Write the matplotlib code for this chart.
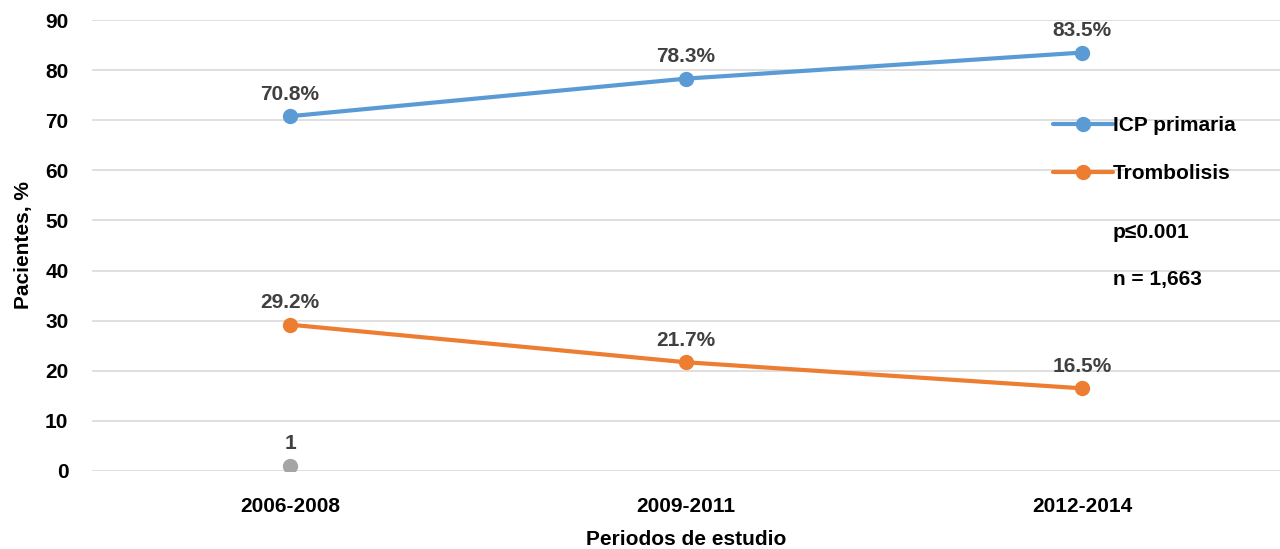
import numpy as np
import matplotlib.pyplot as plt

plt.rcParams['font.family'] = ['Liberation Sans', 'DejaVu Sans']
plt.rcParams['font.weight'] = 'bold'

periods = ['2006-2008', '2009-2011', '2012-2014']
icp = [70.8, 78.3, 83.5]
trombolisis = [29.2, 21.7, 16.5]
serie3 = [1]

FS = 15

fig = plt.figure(figsize=(12.8, 5.49), dpi=100)
ax = fig.add_axes([92/1280, 78/549, 1188/1280, 451/549])

x = np.arange(len(periods))
ax.plot(x, icp, color='#5B9BD5', lw=3, marker='o', ms=10, label='ICP primaria', solid_capstyle='round')
ax.plot(x, trombolisis, color='#ED7D31', lw=3, marker='o', ms=10, label='Trombolisis', solid_capstyle='round')
ax.plot(x[:1], serie3, color='#A5A5A5', lw=0, marker='o', ms=10)

for xi, v in zip(x, icp):
    ax.annotate(f'{v:.1f}%', (xi, v), xytext=(0, 9), textcoords='offset points',
                ha='center', va='bottom', fontsize=FS, color='#404040', fontweight='bold')
for xi, v in zip(x, trombolisis):
    ax.annotate(f'{v:.1f}%', (xi, v), xytext=(0, 9), textcoords='offset points',
                ha='center', va='bottom', fontsize=FS, color='#404040', fontweight='bold')
ax.annotate(f'{serie3[0]}', (x[0], serie3[0]), xytext=(0, 9), textcoords='offset points',
            ha='center', va='bottom', fontsize=FS, color='#404040', fontweight='bold')

ax.set_xlim(-0.5, 2.5)
ax.set_ylim(0, 90)
ax.set_yticks(np.arange(0, 91, 10))
ax.set_xticks(x)
ax.set_xticklabels(periods)
ax.grid(axis='y', color='#D9D9D9', lw=1.2)
ax.set_axisbelow(True)
for s in ax.spines.values():
    s.set_visible(False)
ax.tick_params(length=0, labelsize=FS)
ax.tick_params(axis='x', pad=19)
ax.tick_params(axis='y', pad=17)
for lab in ax.get_xticklabels() + ax.get_yticklabels():
    lab.set_fontweight('bold')
ax.set_xlabel('Periodos de estudio', fontsize=FS, fontweight='bold', labelpad=10)
ax.set_ylabel('Pacientes, %', fontsize=FS, fontweight='bold', labelpad=9)

leg = ax.legend(loc='upper left', bbox_to_anchor=(0.8015, 0.805), frameon=False, fontsize=FS,
                handlelength=2.9, handletextpad=0.0, labelspacing=1.4, borderaxespad=0)
ax.text(1113/1280, 1 - 232/549, 'p≤0.001', transform=fig.transFigure, fontsize=FS,
        fontweight='bold', va='center', ha='left')
ax.text(1113/1280, 1 - 280/549, 'n = 1,663', transform=fig.transFigure, fontsize=FS,
        fontweight='bold', va='center', ha='left')

fig.savefig('out.png', dpi=100)
